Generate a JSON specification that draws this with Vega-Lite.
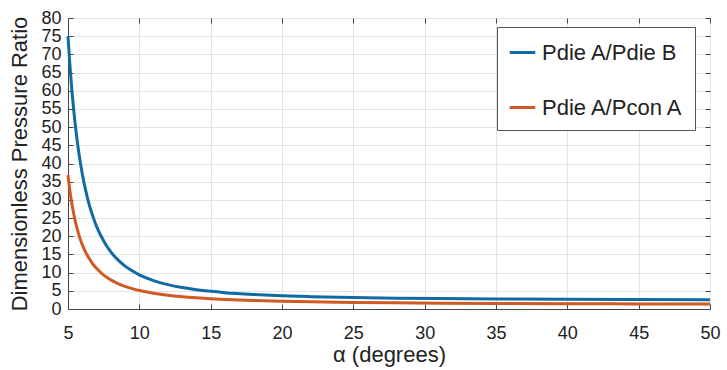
{
  "$schema": "https://vega.github.io/schema/vega-lite/v6.json",
  "width": 642,
  "height": 291,
  "autosize": "none",
  "padding": {"left": 68, "top": 18, "right": 17, "bottom": 61},
  "background": "white",
  "config": {"font": "Liberation Sans", "view": {"stroke": "#555", "strokeWidth": 1}},
  "data": {"values": [
    {"alpha": 5, "ratio": 75.0, "series": "Pdie A/Pdie B"},
    {"alpha": 5.1, "ratio": 68.9, "series": "Pdie A/Pdie B"},
    {"alpha": 5.2, "ratio": 63.6, "series": "Pdie A/Pdie B"},
    {"alpha": 5.3, "ratio": 58.9, "series": "Pdie A/Pdie B"},
    {"alpha": 5.4, "ratio": 54.7, "series": "Pdie A/Pdie B"},
    {"alpha": 5.5, "ratio": 51.0, "series": "Pdie A/Pdie B"},
    {"alpha": 5.6, "ratio": 47.6, "series": "Pdie A/Pdie B"},
    {"alpha": 5.8, "ratio": 41.9, "series": "Pdie A/Pdie B"},
    {"alpha": 6, "ratio": 37.2, "series": "Pdie A/Pdie B"},
    {"alpha": 6.25, "ratio": 32.4, "series": "Pdie A/Pdie B"},
    {"alpha": 6.5, "ratio": 28.5, "series": "Pdie A/Pdie B"},
    {"alpha": 6.75, "ratio": 25.4, "series": "Pdie A/Pdie B"},
    {"alpha": 7, "ratio": 22.7, "series": "Pdie A/Pdie B"},
    {"alpha": 7.5, "ratio": 18.7, "series": "Pdie A/Pdie B"},
    {"alpha": 8, "ratio": 15.7, "series": "Pdie A/Pdie B"},
    {"alpha": 8.5, "ratio": 13.5, "series": "Pdie A/Pdie B"},
    {"alpha": 9, "ratio": 11.8, "series": "Pdie A/Pdie B"},
    {"alpha": 9.5, "ratio": 10.5, "series": "Pdie A/Pdie B"},
    {"alpha": 10, "ratio": 9.4, "series": "Pdie A/Pdie B"},
    {"alpha": 11, "ratio": 7.8, "series": "Pdie A/Pdie B"},
    {"alpha": 12, "ratio": 6.7, "series": "Pdie A/Pdie B"},
    {"alpha": 13, "ratio": 5.9, "series": "Pdie A/Pdie B"},
    {"alpha": 14, "ratio": 5.3, "series": "Pdie A/Pdie B"},
    {"alpha": 15, "ratio": 4.85, "series": "Pdie A/Pdie B"},
    {"alpha": 16, "ratio": 4.5, "series": "Pdie A/Pdie B"},
    {"alpha": 18, "ratio": 4.0, "series": "Pdie A/Pdie B"},
    {"alpha": 20, "ratio": 3.63, "series": "Pdie A/Pdie B"},
    {"alpha": 22, "ratio": 3.39, "series": "Pdie A/Pdie B"},
    {"alpha": 25, "ratio": 3.14, "series": "Pdie A/Pdie B"},
    {"alpha": 28, "ratio": 2.98, "series": "Pdie A/Pdie B"},
    {"alpha": 31, "ratio": 2.86, "series": "Pdie A/Pdie B"},
    {"alpha": 35, "ratio": 2.75, "series": "Pdie A/Pdie B"},
    {"alpha": 40, "ratio": 2.67, "series": "Pdie A/Pdie B"},
    {"alpha": 45, "ratio": 2.61, "series": "Pdie A/Pdie B"},
    {"alpha": 50, "ratio": 2.57, "series": "Pdie A/Pdie B"},
    {"alpha": 5, "ratio": 36.8, "series": "Pdie A/Pcon A"},
    {"alpha": 5.1, "ratio": 33.5, "series": "Pdie A/Pcon A"},
    {"alpha": 5.2, "ratio": 30.7, "series": "Pdie A/Pcon A"},
    {"alpha": 5.3, "ratio": 28.3, "series": "Pdie A/Pcon A"},
    {"alpha": 5.4, "ratio": 26.2, "series": "Pdie A/Pcon A"},
    {"alpha": 5.5, "ratio": 24.3, "series": "Pdie A/Pcon A"},
    {"alpha": 5.6, "ratio": 22.7, "series": "Pdie A/Pcon A"},
    {"alpha": 5.8, "ratio": 19.9, "series": "Pdie A/Pcon A"},
    {"alpha": 6, "ratio": 17.7, "series": "Pdie A/Pcon A"},
    {"alpha": 6.25, "ratio": 15.5, "series": "Pdie A/Pcon A"},
    {"alpha": 6.5, "ratio": 13.8, "series": "Pdie A/Pcon A"},
    {"alpha": 6.75, "ratio": 12.3, "series": "Pdie A/Pcon A"},
    {"alpha": 7, "ratio": 11.2, "series": "Pdie A/Pcon A"},
    {"alpha": 7.5, "ratio": 9.3, "series": "Pdie A/Pcon A"},
    {"alpha": 8, "ratio": 8.0, "series": "Pdie A/Pcon A"},
    {"alpha": 8.5, "ratio": 7.0, "series": "Pdie A/Pcon A"},
    {"alpha": 9, "ratio": 6.2, "series": "Pdie A/Pcon A"},
    {"alpha": 9.5, "ratio": 5.6, "series": "Pdie A/Pcon A"},
    {"alpha": 10, "ratio": 5.1, "series": "Pdie A/Pcon A"},
    {"alpha": 11, "ratio": 4.34, "series": "Pdie A/Pcon A"},
    {"alpha": 12, "ratio": 3.79, "series": "Pdie A/Pcon A"},
    {"alpha": 13, "ratio": 3.39, "series": "Pdie A/Pcon A"},
    {"alpha": 14, "ratio": 3.08, "series": "Pdie A/Pcon A"},
    {"alpha": 15, "ratio": 2.83, "series": "Pdie A/Pcon A"},
    {"alpha": 16, "ratio": 2.63, "series": "Pdie A/Pcon A"},
    {"alpha": 18, "ratio": 2.34, "series": "Pdie A/Pcon A"},
    {"alpha": 20, "ratio": 2.13, "series": "Pdie A/Pcon A"},
    {"alpha": 22, "ratio": 1.97, "series": "Pdie A/Pcon A"},
    {"alpha": 25, "ratio": 1.81, "series": "Pdie A/Pcon A"},
    {"alpha": 28, "ratio": 1.69, "series": "Pdie A/Pcon A"},
    {"alpha": 31, "ratio": 1.60, "series": "Pdie A/Pcon A"},
    {"alpha": 35, "ratio": 1.52, "series": "Pdie A/Pcon A"},
    {"alpha": 40, "ratio": 1.45, "series": "Pdie A/Pcon A"},
    {"alpha": 45, "ratio": 1.40, "series": "Pdie A/Pcon A"},
    {"alpha": 50, "ratio": 1.36, "series": "Pdie A/Pcon A"}
  ]},
  "layer": [
    {
      "mark": {"type": "line", "strokeWidth": 3, "interpolate": "monotone"},
      "encoding": {
        "x": {
          "field": "alpha", "type": "quantitative",
          "scale": {"domain": [5, 50], "nice": false},
          "axis": {
            "title": "α (degrees)",
            "values": [5, 10, 15, 20, 25, 30, 35, 40, 45, 50],
            "labelFontSize": 18, "titleFontSize": 22, "titleFontWeight": "normal",
            "tickSize": -5, "labelPadding": 20, "titlePadding": 2,
            "gridColor": "#e4e4e4", "domainColor": "#444", "tickColor": "#444",
            "labelColor": "#222", "titleColor": "#222", "labelFlush": false
          }
        },
        "y": {
          "field": "ratio", "type": "quantitative",
          "scale": {"domain": [0, 80], "nice": false},
          "axis": {
            "title": "Dimensionless Pressure Ratio",
            "values": [0, 5, 10, 15, 20, 25, 30, 35, 40, 45, 50, 55, 60, 65, 70, 75, 80],
            "labelFontSize": 18, "titleFontSize": 22, "titleFontWeight": "normal",
            "tickSize": -5, "labelPadding": 12, "titlePadding": 9, "labelOverlap": false,
            "gridColor": "#e4e4e4", "domainColor": "#444", "tickColor": "#444",
            "labelColor": "#222", "titleColor": "#222", "labelFlush": false
          }
        },
        "color": {
          "field": "series", "type": "nominal",
          "scale": {"domain": ["Pdie A/Pdie B", "Pdie A/Pcon A"], "range": ["#106AA4", "#CF5A22"]},
          "legend": {
            "title": null, "orient": "none", "legendX": 429, "legendY": 9,
            "symbolType": "stroke", "symbolStrokeWidth": 3, "symbolSize": 650,
            "labelFontSize": 22, "labelColor": "#222", "labelLimit": 400, "labelOffset": 5,
            "strokeColor": "#555", "fillColor": "white", "padding": 11, "rowPadding": 29
          }
        }
      }
    },
    {
      "mark": {"type": "line", "strokeOpacity": 0},
      "encoding": {
        "x": {
          "field": "alpha", "type": "quantitative",
          "axis": {"orient": "top", "title": null, "labels": false, "grid": false, "domain": false,
                   "values": [5, 10, 15, 20, 25, 30, 35, 40, 45, 50], "tickSize": -5, "tickColor": "#444"}
        },
        "y": {
          "field": "ratio", "type": "quantitative",
          "axis": {"orient": "right", "title": null, "labels": false, "grid": false, "domain": false,
                   "values": [0, 5, 10, 15, 20, 25, 30, 35, 40, 45, 50, 55, 60, 65, 70, 75, 80], "tickSize": -5, "tickColor": "#444"}
        },
        "detail": {"field": "series"}
      }
    }
  ],
  "resolve": {"axis": {"x": "independent", "y": "independent"}}
}
